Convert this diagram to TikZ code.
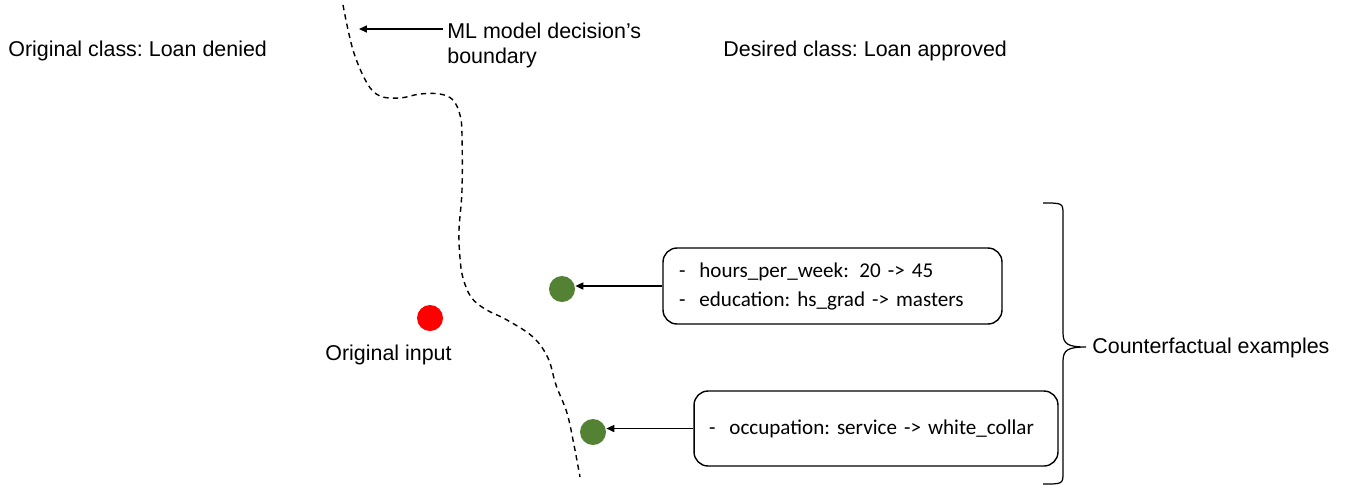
\documentclass[tikz,border=0pt]{standalone}
\usepackage{fontspec}
\setmainfont{Liberation Sans}
\newfontfamily\boxfont{Carlito}
\usetikzlibrary{arrows.meta}
\definecolor{cfgreen}{HTML}{548235}
\frenchspacing
\begin{document}
\begin{tikzpicture}[x=0.02cm,y=-0.02cm,
    lbl/.style={anchor=base west,inner sep=0pt,font=\fontsize{12.2}{14}\selectfont},
    dot/.style={circle,minimum size=0.52cm,inner sep=0pt},
    cfbox/.style={draw,line width=0.8pt,rounded corners=0.28cm,align=left,
      font=\boxfont\fontsize{12}{16.5}\selectfont},
    tip/.style={-{Triangle[length=4.5pt,width=4pt]},line width=0.8pt}]
  \useasboundingbox (0,0) rectangle (1351,485);
  % class labels
  \node[lbl] (orig) at (8,56){Original class: Loan denied};
  \node[lbl] (des) at (723,56){Desired class: Loan approved};
  % decision boundary
  \draw[dashed,dash pattern=on 3pt off 2.4pt,line width=0.8pt] plot[smooth,tension=0.6] coordinates {
    (343,5) (353,50) (367,83) (380,96) (400,98) (420,94) (440,94) (453,100)
    (460,115) (462,135) (462,190) (459,230) (460,258) (463,278) (471,297)
    (485,309) (507,320) (533,337) (548,358) (556,385) (567,413) (574,445) (580,477)};
  \coordinate (bnd) at (359,29);
  \node[lbl,align=left,font=\fontsize{12.2}{13.7}\selectfont] (ml) at (447,63)
    {ML model decision's\\boundary};
  \draw[tip] (443,29) -- (bnd);
  % original input
  \node[dot,fill=red] (inp) at (430,318){};
  \node[lbl] (inplbl) at (325,360){Original input};
  % counterfactuals
  \node[dot,fill=cfgreen] (cf1) at (562,289){};
  \node[dot,fill=cfgreen] (cf2) at (593,432){};
  \node[cfbox,minimum width=6.78cm,minimum height=1.52cm,inner xsep=0.32cm,text width=6.14cm] (box1) at (832.5,286)
    {\makebox[11.6pt][l]{-}hours\_per\_week:\kern2pt\ 20 -> 45\\\makebox[11.6pt][l]{-}education: hs\_grad -> masters};
  \node[cfbox,minimum width=7.28cm,minimum height=1.5cm,inner xsep=0.3cm,text width=6.68cm] (box2) at (876,428.5)
    {\makebox[11.6pt][l]{-}occupation: service -> white\_collar};
  \draw[tip] (box1.west) -- (cf1.east |- box1.west);
  \draw[tip] (box2.west) -- (cf2.east |- box2.west);
  % brace
  \coordinate (brtip) at (1086,347);
  \draw[line width=0.7pt] (1043,203) .. controls (1063,203) .. (1063,215) -- (1063,333)
    .. controls (1063,344) and (1068,347) .. (brtip)
    .. controls (1068,347) and (1063,350) .. (1063,361) -- (1063,472)
    .. controls (1063,484) .. (1043,484);
  \node[lbl] (cflbl) at (1092,353){Counterfactual examples};
\end{tikzpicture}
\end{document}
